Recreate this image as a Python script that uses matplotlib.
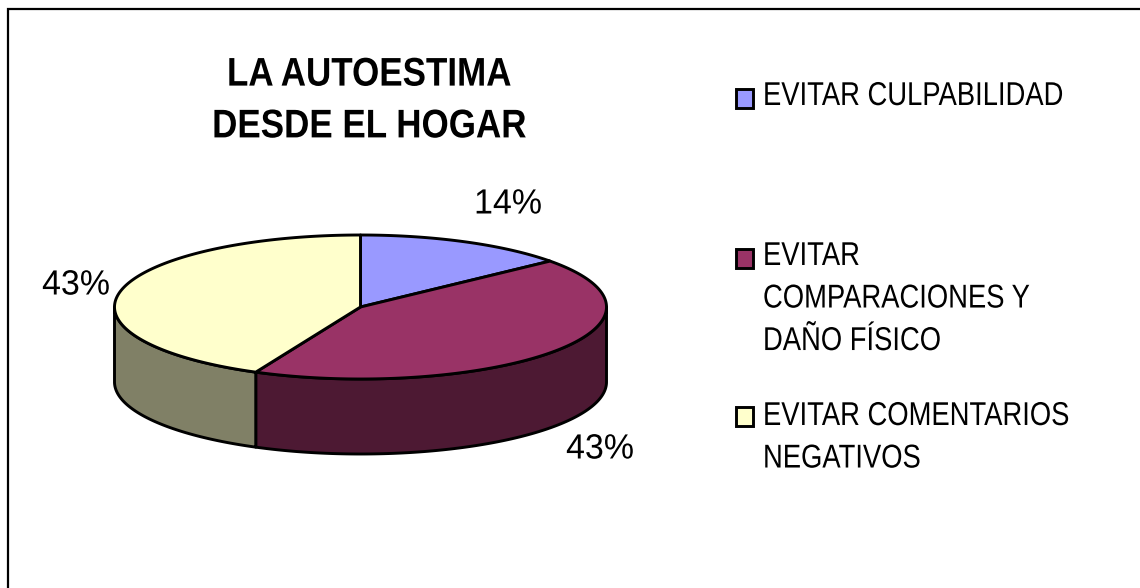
import numpy as np
import matplotlib
matplotlib.use('Agg')
import matplotlib.pyplot as plt
from matplotlib.patheffects import AbstractPathEffect
from matplotlib.transforms import Affine2D

plt.rcParams['font.family'] = ['Liberation Sans', 'DejaVu Sans']

title = 'LA AUTOESTIMA\nDESDE EL HOGAR'
labels = ['EVITAR CULPABILIDAD', 'EVITAR\nCOMPARACIONES Y\nDAÑO FÍSICO', 'EVITAR COMENTARIOS\nNEGATIVOS']
values = [14, 43, 43]
pct_labels = ['14%', '43%', '43%']

top_colors = ['#9999FF', '#993366', '#FFFFCC']
side_colors = ['#4D1933', '#4D1933', '#808066']

# posiciones en pixeles
cx, cy, rx, ry, depth = 360.5, 307, 246, 72, 75
pct_pos = [(508, 204), (76, 285), (600, 449)]
legend_box_y = [98, 258, 416]
legend_text_y = [81, 241, 401]
px = 0.72  # pontos por pixel a 100 dpi


class Squeeze(AbstractPathEffect):
    # aperta o texto na horizontal, como no original
    def __init__(self, x0, sx):
        super().__init__()
        self.x0, self.sx = x0, sx

    def draw_path(self, renderer, gc, tpath, affine, rgbFace=None):
        t = affine + Affine2D().translate(-self.x0, 0).scale(self.sx, 1).translate(self.x0, 0)
        renderer.draw_path(gc, tpath, t, rgbFace)


def arc(a0, a1, dy=0):
    # angulos em graus, a partir do topo, sentido horario
    t = np.radians(np.linspace(a0, a1, 200))
    return cx + rx*np.sin(t), cy + dy - ry*np.cos(t)


fig = plt.figure(figsize=(11.4, 5.88), dpi=100)
ax = fig.add_axes([0, 0, 1, 1])
ax.set_xlim(0, 1140)
ax.set_ylim(588, 0)
ax.axis('off')

# borda do grafico (so esquerda e topo aparecem)
ax.plot([8, 8, 1140], [588, 9, 9], color='black', lw=1.6, solid_joinstyle='miter')

edges = np.cumsum([0] + values) / sum(values) * 360

# paredes laterais (metade da frente)
for i in range(len(values)):
    a0, a1 = max(edges[i], 90), min(edges[i+1], 270)
    if a1 <= a0:
        continue
    x, y = arc(a0, a1)
    xb, yb = arc(a0, a1, depth)
    ax.fill(np.r_[x, xb[::-1]], np.r_[y, yb[::-1]], facecolor=side_colors[i],
            edgecolor='black', lw=2.1, joinstyle='round')

# tampa
for i in range(len(values)):
    x, y = arc(edges[i], edges[i+1])
    ax.fill(np.r_[cx, x], np.r_[cy, y], facecolor=top_colors[i],
            edgecolor='black', lw=2.1, joinstyle='round')

for (x, y), s in zip(pct_pos, pct_labels):
    ax.text(x, y, s, fontsize=35*px, ha='center', va='center', color='black',
            path_effects=[Squeeze(x, 0.97)])

tx = 369
ax.text(tx, 100.5, title, fontsize=40*px, fontweight='bold', ha='center', va='center',
        linespacing=1.46, path_effects=[Squeeze(tx, 0.875)])

lx = 763
for i, s in enumerate(labels):
    ax.add_patch(plt.Rectangle((736, legend_box_y[i]-9.5), 17, 19, facecolor=top_colors[i],
                               edgecolor='black', lw=2.1))
    ax.text(lx, legend_text_y[i], s, fontsize=33*px, ha='left', va='top', linespacing=1.48,
            path_effects=[Squeeze(lx, 0.83)])

fig.savefig('out.png', dpi=100)
